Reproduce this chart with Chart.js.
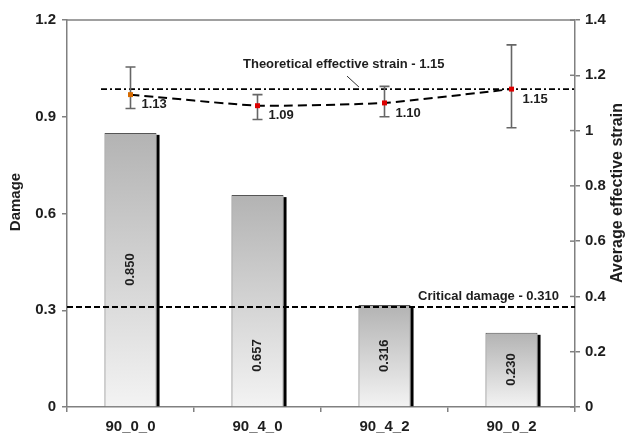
<!DOCTYPE html>
<html>
<head>
<meta charset="utf-8">
<script src="https://cdn.jsdelivr.net/npm/chart.js@4.4.1/dist/chart.umd.min.js"></script>
<style>
  html, body { margin: 0; padding: 0; background: #fff; }
  #wrap { width: 630px; height: 439px; }
</style>
</head>
<body>
<div id="wrap"><canvas id="c" width="630" height="439"></canvas></div>
<script>
'use strict';

/* ─── Data ─── */
const categories  = ['90_0_0', '90_4_0', '90_4_2', '90_0_2'];
const damage      = [0.850, 0.657, 0.316, 0.230];
const damageText  = ['0.850', '0.657', '0.316', '0.230'];
const strain      = [1.13, 1.09, 1.10, 1.15];
const strainText  = ['1.13', '1.09', '1.10', '1.15'];
const strainHigh  = [1.23, 1.13, 1.16, 1.31];
const strainLow   = [1.08, 1.04, 1.05, 1.01];
const damageTicks = [0, 0.3, 0.6, 0.9, 1.2];
const strainTicks = [0, 0.2, 0.4, 0.6, 0.8, 1, 1.2, 1.4];
const criticalDamage    = 0.310;
const theoreticalStrain = 1.15;

/* ─── Styling ─── */
const AXIS   = '#808080';
const INK    = '#1e1e1e';
const FONT   = "'Liberation Sans', Arial, sans-serif";
const barLabelPos = [0.5, 0.24, 0.5, 0.5];   // fraction of bar height from base
const pointColors = ['#d66a00', '#dd0000', '#dd0000', '#dd0000'];

function barGradient(ctx) {
  const chart = ctx.chart;
  if (!chart.chartArea || ctx.type !== 'data') return '#d8d8d8';
  const y = chart.scales.y;
  const top = y.getPixelForValue(ctx.raw);
  const bottom = y.getPixelForValue(0);
  const g = chart.ctx.createLinearGradient(0, top, 0, bottom);
  g.addColorStop(0, '#b3b3b3');
  g.addColorStop(1, '#f3f3f3');
  return g;
}

/* ─── Custom drawing ─── */
const decor = {
  id: 'decor',

  beforeDatasetDraw(chart, args) {
    if (args.index !== 1) return;
    // error bars under the strain markers
    const c = chart.ctx;
    const y1 = chart.scales.y1;
    const meta = chart.getDatasetMeta(1);
    c.save();
    c.strokeStyle = '#666';
    c.lineWidth = 1.6;
    meta.data.forEach((pt, i) => {
      const hi = y1.getPixelForValue(strainHigh[i]);
      const lo = y1.getPixelForValue(strainLow[i]);
      c.beginPath();
      c.moveTo(pt.x, hi); c.lineTo(pt.x, lo);
      c.moveTo(pt.x - 5, hi); c.lineTo(pt.x + 5, hi);
      c.moveTo(pt.x - 5, lo); c.lineTo(pt.x + 5, lo);
      c.stroke();
    });
    c.restore();
  },

  afterDatasetDraw(chart, args) {
    if (args.index !== 0) return;
    const c = chart.ctx;
    const area = chart.chartArea;
    const y = chart.scales.y;
    const y1 = chart.scales.y1;
    const meta = chart.getDatasetMeta(0);

    c.save();
    // bar shadows on the right edge
    c.fillStyle = '#000';
    meta.data.forEach(bar => {
      const right = bar.x + bar.width / 2;
      c.fillRect(right, bar.y + 2, 3, bar.base - bar.y - 2);
    });

    // values inside bars
    c.fillStyle = INK;
    c.font = `bold 13px ${FONT}`;
    c.textAlign = 'center';
    c.textBaseline = 'middle';
    meta.data.forEach((bar, i) => {
      const ly = bar.base - (bar.base - bar.y) * barLabelPos[i];
      c.save();
      c.translate(bar.x, ly);
      c.rotate(-Math.PI / 2);
      c.fillText(damageText[i], 0, 0);
      c.restore();
    });

    // critical damage line
    const cy = y.getPixelForValue(criticalDamage);
    c.strokeStyle = '#000';
    c.lineWidth = 2;
    c.setLineDash([6, 3]);
    c.beginPath();
    c.moveTo(area.left, cy); c.lineTo(area.right, cy);
    c.stroke();

    // theoretical strain line
    const ty = y1.getPixelForValue(theoreticalStrain);
    c.lineWidth = 1.8;
    c.setLineDash([6, 3, 2, 3]);
    c.beginPath();
    c.moveTo(area.left + 34, ty); c.lineTo(area.right, ty);
    c.stroke();
    c.setLineDash([]);

    // leader line for theoretical label
    c.lineWidth = 1;
    c.strokeStyle = '#333';
    c.beginPath();
    c.moveTo(347, ty - 13); c.lineTo(359, ty - 2);
    c.stroke();

    c.font = `bold 13px ${FONT}`;
    c.fillStyle = INK;
    c.textAlign = 'left';
    c.textBaseline = 'middle';
    c.fillText(`Theoretical effective strain - ${theoreticalStrain.toFixed(2)}`, 243, ty - 25);
    c.fillText(`Critical damage - ${criticalDamage.toFixed(3)}`, 418, cy - 11);
    c.restore();
  },

  afterDatasetsDraw(chart) {
    const c = chart.ctx;
    const meta = chart.getDatasetMeta(1);
    c.save();
    c.fillStyle = INK;
    c.font = `bold 13px ${FONT}`;
    c.textAlign = 'left';
    c.textBaseline = 'middle';
    meta.data.forEach((pt, i) => {
      c.fillText(strainText[i], pt.x + 11, pt.y + 10);
    });
    c.restore();
  },

  afterDraw(chart) {
    const c = chart.ctx;
    const area = chart.chartArea;
    const y1 = chart.scales.y1;
    c.save();
    // top frame line
    c.strokeStyle = AXIS;
    c.lineWidth = 1.5;
    c.beginPath();
    c.moveTo(area.left, area.top); c.lineTo(area.right, area.top);
    c.stroke();
    // right axis ticks cross the axis
    strainTicks.forEach(v => {
      const py = y1.getPixelForValue(v);
      c.beginPath();
      c.moveTo(area.right - 5, py); c.lineTo(area.right, py);
      c.stroke();
    });

    // axis titles
    c.fillStyle = INK;
    c.font = `bold 15px ${FONT}`;
    c.textAlign = 'center';
    c.textBaseline = 'middle';
    c.save();
    c.translate(16, 202);
    c.rotate(-Math.PI / 2);
    c.fillText('Damage', 0, 0);
    c.restore();
    c.font = `bold 16px ${FONT}`;
    c.save();
    c.translate(618, 193);
    c.rotate(-Math.PI / 2);
    c.fillText('Average effective strain', 0, 0);
    c.restore();
    c.restore();
  }
};

/* ─── Chart ─── */
new Chart(document.getElementById('c'), {
  data: {
    labels: categories,
    datasets: [
      {
        type: 'bar',
        label: 'Damage',
        data: damage,
        yAxisID: 'y',
        order: 2,
        backgroundColor: barGradient,
        borderColor: '#555',
        borderWidth: 1,
        barPercentage: 0.41,
        categoryPercentage: 1
      },
      {
        type: 'line',
        label: 'Average effective strain',
        data: strain,
        yAxisID: 'y1',
        order: 1,
        borderColor: '#000',
        borderWidth: 2,
        borderDash: [9, 5],
        tension: 0.15,
        fill: false,
        pointStyle: 'rect',
        pointRadius: 3.5,
        pointBorderWidth: 0,
        pointBackgroundColor: pointColors
      }
    ]
  },
  options: {
    responsive: false,
    animation: false,
    devicePixelRatio: 1,
    layout: { padding: { top: 20, left: 0, right: 0, bottom: 0 } },
    plugins: {
      legend: { display: false },
      tooltip: { enabled: false }
    },
    scales: {
      x: {
        afterFit: s => { s.height = 32; },
        grid: { drawOnChartArea: false, tickLength: 5, color: AXIS, lineWidth: 1.5 },
        border: { color: AXIS, width: 1.5 },
        ticks: { color: INK, padding: 6, font: { family: FONT, size: 15, weight: 'bold' } }
      },
      y: {
        position: 'left',
        min: 0, max: 1.2,
        afterFit: s => { s.width = 67; },
        afterBuildTicks: s => { s.ticks = damageTicks.map(v => ({ value: v })); },
        grid: { drawOnChartArea: false, tickLength: 5, color: AXIS, lineWidth: 1.5 },
        border: { color: AXIS, width: 1.5 },
        ticks: {
          color: INK, padding: 6,
          font: { family: FONT, size: 15, weight: 'bold' },
          callback: v => String(v)
        }
      },
      y1: {
        position: 'right',
        min: 0, max: 1.4,
        afterFit: s => { s.width = 55; },
        afterBuildTicks: s => { s.ticks = strainTicks.map(v => ({ value: v })); },
        grid: { drawOnChartArea: false, tickLength: 5, color: AXIS, lineWidth: 1.5 },
        border: { color: AXIS, width: 1.5 },
        ticks: {
          color: INK, padding: 5,
          font: { family: FONT, size: 15, weight: 'bold' },
          callback: v => String(v)
        }
      }
    }
  },
  plugins: [decor]
});
</script>
</body>
</html>
